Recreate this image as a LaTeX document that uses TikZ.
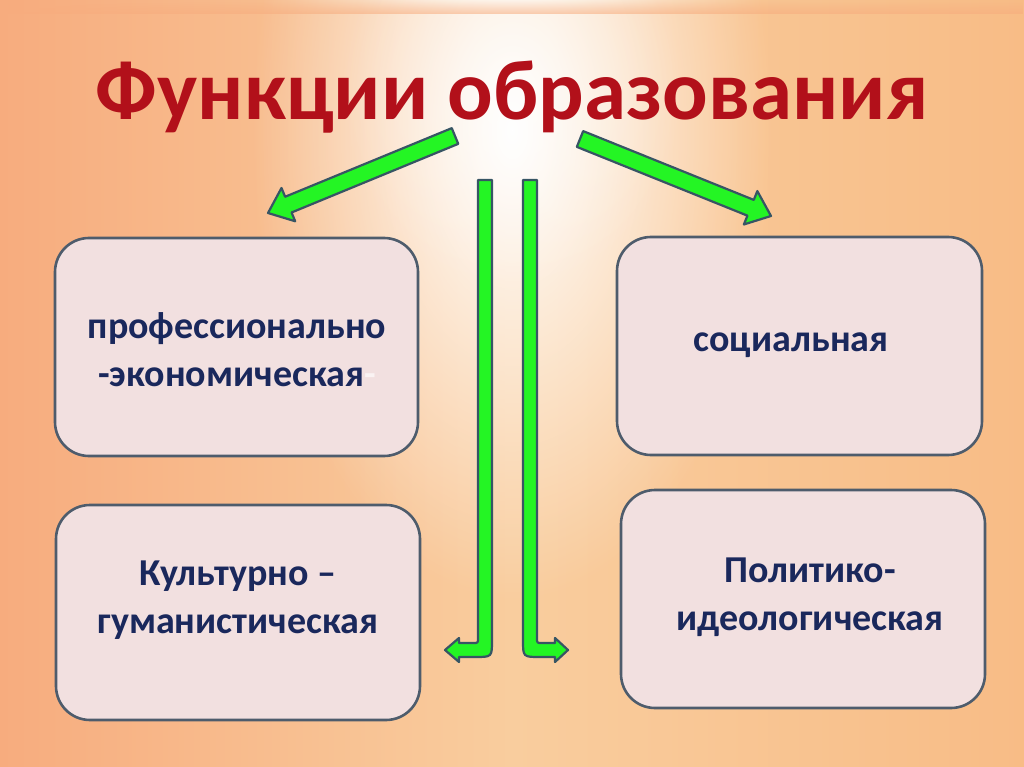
\documentclass[tikz,border=0pt]{standalone}
\usepackage{fontspec}
\setmainfont{Carlito}
\usetikzlibrary{calc,fadings}
\definecolor{bgL}{RGB}{247,172,126}
\definecolor{bgM}{RGB}{249,205,158}
\definecolor{bgR}{RGB}{248,188,134}
\definecolor{boxfill}{RGB}{242,224,224}
\definecolor{boxline}{RGB}{78,92,108}
\definecolor{txt}{RGB}{26,40,92}
\definecolor{ttl}{RGB}{178,16,26}
\definecolor{arrfill}{RGB}{36,245,36}
\definecolor{arrline}{RGB}{55,85,100}
\tikzfading[name=glowfade, inner color=transparent!0, outer color=transparent!100]
\begin{document}
\begin{tikzpicture}[x=1pt,y=-1pt,
  box/.style={draw=boxline, fill=boxfill, line width=2.6pt, rounded corners=34pt},
  lbl/.style={text=txt, align=center, font=\fontsize{38}{48}\selectfont\bfseries},
  barrow/.style={draw=arrline, fill=arrfill, line width=2.2pt, line join=round}]
\useasboundingbox (0,0) rectangle (1024,767);
% background
\shade[left color=bgL, right color=bgR, middle color=bgM] (0,0) rectangle (1024,767);
\fill[white, path fading=glowfade, fit fading=true] (512,130) ellipse (260 and 470);
\fill[white, opacity=0.5, path fading=glowfade, fit fading=true] (512,90) ellipse (170 and 200);
\fill[bgL, opacity=0.6, path fading=north] (0,0) rectangle (1024,14);
% title
\node[text=ttl, font=\fontsize{85}{95}\selectfont\bfseries] (title) at (512,97) {Функции образования};
% boxes
\node[box, minimum width=363pt, minimum height=218pt] (b1) at (236.5,347) {};
\node[box, minimum width=365pt, minimum height=218pt] (b2) at (799.5,346) {};
\node[box, minimum width=364pt, minimum height=215pt] (b3) at (238,612.5) {};
\node[box, minimum width=364pt, minimum height=218pt] (b4) at (803,599) {};
\node[lbl] (t1) at (237,350) {профессионально\\-экономическая{\color{boxfill!40!white}-}};
\node[lbl] (t2) at (791,345) {социальная};
\node[lbl] (t3) at (238,600) {Культурно –\\гуманистическая};
\node[lbl] (t4) at (810,597) {Политико-\\идеологическая};
% diagonal arrows
\coordinate (lT) at (455,136);
\coordinate (lP) at (268,213);
\coordinate (rT) at (580,139);
\coordinate (rP) at (771,216);
\foreach \T/\P in {lT/lP, rT/rP}{
  \coordinate (H) at ($(\P)!22pt!(\T)$);
  \draw[barrow] ($(\T)!8.5pt!90:(\P)$) -- ($(H)!8.5pt!90:(\P)$) -- ($(H)!18pt!90:(\P)$) -- (\P)
     -- ($(H)!18pt!-90:(\P)$) -- ($(H)!8.5pt!-90:(\P)$) -- ($(\T)!8.5pt!-90:(\P)$) -- cycle;
}
% bent arrows
\coordinate (vlTop) at (485,180);
\coordinate (vlTip) at (445,650);
\coordinate (vrTop) at (530,180);
\coordinate (vrTip) at (568,650);
\draw[barrow] ($(vlTop)+(-7,0)$) -- ($(vlTop)+(7,0)$) -- (492,640) .. controls (492,657) .. (475,657)
  -- (459,657) -- (459,662) -- (vlTip) -- (459,638) -- (459,643) -- (473,643)
  .. controls (478,643) .. (478,638) -- cycle;
\draw[barrow] ($(vrTop)+(-7,0)$) -- ($(vrTop)+(7,0)$) -- (537,638) .. controls (537,643) .. (542,643)
  -- (555,643) -- (555,638) -- (vrTip) -- (555,662) -- (555,657) -- (540,657)
  .. controls (523,657) .. (523,640) -- cycle;
\end{tikzpicture}
\end{document}
